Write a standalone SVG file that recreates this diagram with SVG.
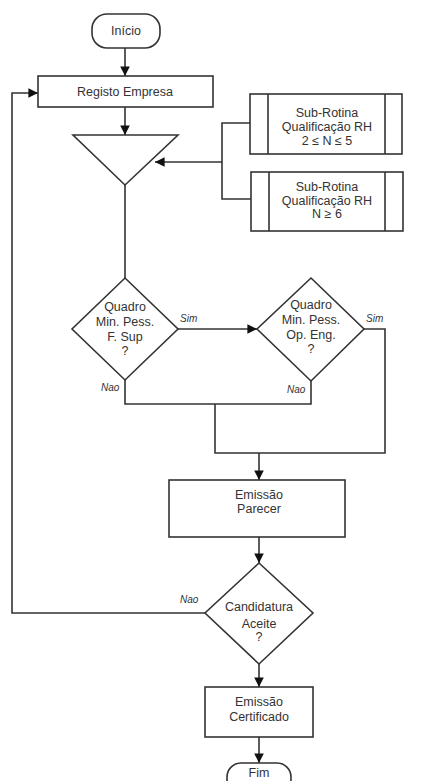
<svg xmlns="http://www.w3.org/2000/svg" width="432" height="781" viewBox="0 0 432 781">
<style>
.s{fill:#fff;stroke:#333;stroke-width:1.6}
.c{fill:none;stroke:#333;stroke-width:1.6}
.t{font-family:"Liberation Sans",Arial,sans-serif;font-size:12.5px;fill:#333;text-anchor:middle}
.l{font-family:"Liberation Sans",Arial,sans-serif;font-size:10px;font-style:italic;fill:#333}
</style>
<defs>
<marker id="a" viewBox="0 0 10 10" refX="10" refY="5" markerWidth="6" markerHeight="6" orient="auto" markerUnits="strokeWidth">
<path d="M0,0 L10,5 L0,10 z" fill="#111"/>
</marker>
</defs>
<rect width="432" height="781" fill="#fff"/>
<g id="connectors">
<path class="c" d="M125,48 V76" marker-end="url(#a)"/>
<path class="c" d="M125,107 V135" marker-end="url(#a)"/>
<path class="c" d="M250,123 H222 V199 H251"/>
<path class="c" d="M222,162 H155" marker-end="url(#a)"/>
<path class="c" d="M125,185 V278"/>
<path class="c" d="M178,329 H257" marker-end="url(#a)"/>
<path class="c" d="M364,329 H385 V453 H215 V404"/>
<path class="c" d="M125,380 V404 H311 V381"/>
<path class="c" d="M259,453 V480" marker-end="url(#a)"/>
<path class="c" d="M259,537 V563" marker-end="url(#a)"/>
<path class="c" d="M205,613 H12 V93 H38" marker-end="url(#a)"/>
<path class="c" d="M259,664 V687" marker-end="url(#a)"/>
<path class="c" d="M259,737 V763" marker-end="url(#a)"/>
<text class="l" x="180" y="322">Sim</text>
<text class="l" x="366" y="322">Sim</text>
<text class="l" x="101" y="391">Nao</text>
<text class="l" x="287" y="393">Nao</text>
<text class="l" x="180" y="603">Nao</text>
</g>
<g id="inicio">
<rect class="s" x="92" y="14" width="68" height="34" rx="15"/>
<text class="t" x="126" y="35">Início</text>
</g>
<g id="registo">
<rect class="s" x="38" y="76" width="175" height="31"/>
<text class="t" x="125" y="96">Registo Empresa</text>
</g>
<g id="merge">
<path class="s" d="M73,135 H178 L125,185 z"/>
</g>
<g id="sub1">
<rect class="s" x="250" y="94" width="152" height="60"/>
<path class="c" d="M268,94 V154 M385,94 V154"/>
<text class="t" x="327" y="117">Sub-Rotina</text>
<text class="t" x="327" y="131">Qualificação RH</text>
<text class="t" x="327" y="145">2 ≤ N ≤ 5</text>
</g>
<g id="sub2">
<rect class="s" x="251" y="172" width="152" height="59"/>
<path class="c" d="M269,172 V231 M385,172 V231"/>
<text class="t" x="327" y="191">Sub-Rotina</text>
<text class="t" x="327" y="205">Qualificação RH</text>
<text class="t" x="327" y="218">N ≥ 6</text>
</g>
<g id="d1">
<path class="s" d="M125,278 L178,329 L125,380 L72,329 z"/>
<text class="t" x="125" y="311">Quadro</text>
<text class="t" x="125" y="326">Min. Pess.</text>
<text class="t" x="125" y="341">F. Sup</text>
<text class="t" x="125" y="355">?</text>
</g>
<g id="d2">
<path class="s" d="M311,278 L364,329 L311,381 L257,329 z"/>
<text class="t" x="311" y="309">Quadro</text>
<text class="t" x="311" y="324">Min. Pess.</text>
<text class="t" x="311" y="339">Op. Eng.</text>
<text class="t" x="311" y="353">?</text>
</g>
<g id="parecer">
<rect class="s" x="169" y="480" width="176" height="57"/>
<text class="t" x="259" y="499">Emissão</text>
<text class="t" x="259" y="513">Parecer</text>
</g>
<g id="d3">
<path class="s" d="M259,563 L313,613 L259,664 L205,613 z"/>
<text class="t" x="259" y="611">Candidatura</text>
<text class="t" x="259" y="628">Aceite</text>
<text class="t" x="259" y="641">?</text>
</g>
<g id="certificado">
<rect class="s" x="205" y="687" width="108" height="50"/>
<text class="t" x="259" y="706">Emissão</text>
<text class="t" x="259" y="721">Certificado</text>
</g>
<g id="fim">
<rect class="s" x="227" y="763" width="64" height="30" rx="14"/>
<text class="t" x="259" y="777">Fim</text>
</g>
</svg>
